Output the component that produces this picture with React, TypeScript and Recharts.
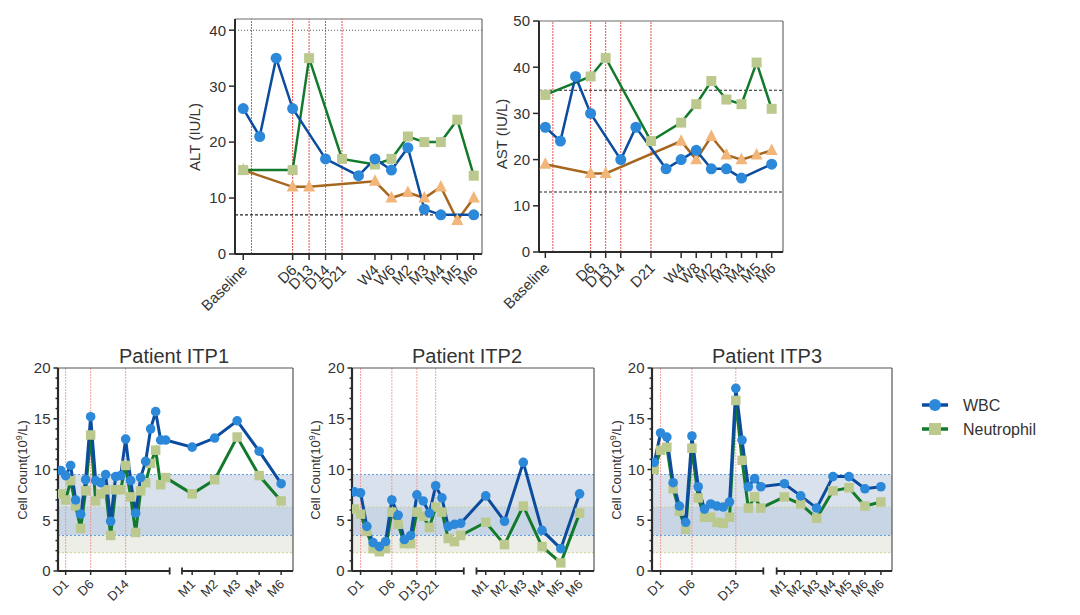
import React from 'react';
import { LineChart, Line, XAxis, YAxis, ReferenceLine, ReferenceArea } from 'recharts';

const FONT = '"Liberation Sans", Arial, Helvetica, sans-serif';
const TEXT = '#333333';
const AXIS = '#2b2b2b';

const BLUE_LINE = '#0B4C9E';
const BLUE_DOT = '#2C88D8';
const GREEN_LINE = '#137A2C';
const GREEN_DOT = '#BCC98E';
const ORANGE_LINE = '#A6661D';
const ORANGE_DOT = '#F2B67B';

// ---------------- ALT (top left) ----------------
const altTickLabels = ['Baseline', 'D6', 'D13', 'D14', 'D21', 'W4', 'W6', 'M2', 'M3', 'M4', 'M5', 'M6'];
const altTickPos = [0, 3, 4, 5, 6, 8, 9, 10, 11, 12, 13, 14];
const altGuides = [0.5, 3, 4, 5, 6];
const altBlueX = [0, 1, 2, 3, 5, 7, 8, 9, 10, 11, 12, 14];
const altBlue = [26, 21, 35, 26, 17, 14, 17, 15, 19, 8, 7, 7];
const altGreenX = [0, 3, 4, 6, 8, 9, 10, 11, 12, 13, 14];
const altGreen = [15, 15, 35, 17, 16, 17, 21, 20, 20, 24, 14];
const altOrangeX = [0, 3, 4, 8, 9, 10, 11, 12, 13, 14];
const altOrange = [15, 12, 12, 13, 10, 11, 10, 12, 6, 10];
const altUpper = 40;
const altLower = 7;

// ---------------- AST (top right) ----------------
const astTickLabels = ['Baseline', 'D6', 'D13', 'D14', 'D21', 'W4', 'W8', 'M2', 'M3', 'M4', 'M5', 'M6'];
const astTickPos = [0, 3, 4, 5, 7, 9, 10, 11, 12, 13, 14, 15];
const astGuides = [0.5, 3, 4, 5, 7];
const astBlueX = [0, 1, 2, 3, 5, 6, 8, 9, 10, 11, 12, 13, 15];
const astBlue = [27, 24, 38, 30, 20, 27, 18, 20, 22, 18, 18, 16, 19];
const astGreenX = [0, 3, 4, 7, 9, 10, 11, 12, 13, 14, 15];
const astGreen = [34, 38, 42, 24, 28, 32, 37, 33, 32, 41, 31];
const astOrangeX = [0, 3, 4, 9, 10, 11, 12, 13, 14, 15];
const astOrange = [19, 17, 17, 24, 20, 25, 21, 20, 21, 22];
const astUpper = 35;
const astLower = 13;

// ---------------- Blood counts (bottom) ----------------
const wbcRange = [3.5, 9.5];
const neuRange = [1.8, 6.3];
const countTicks = [0, 1, 2, 3, 4, 5, 6, 7, 8, 9, 10, 11, 12, 13, 14, 15, 16, 17, 18, 19, 20];

const itp1DayTickPos = [1, 6, 13];
const itp1DayLabels = ['D1', 'D6', 'D14'];
const itp1WbcDays = [9.9, 9.4, 10.4, 7.0, 5.6, 9.0, 15.2, 8.9, 8.7, 9.5, 4.9, 9.3, 9.4, 13.0, 8.9, 5.7, 9.2, 10.8, 14.0, 15.7, 12.9, 12.9];
const itp1NeuDays = [7.6, 7.0, 8.9, 6.4, 4.2, 7.9, 13.4, 6.9, 7.6, 8.0, 3.5, 8.0, 8.0, 10.4, 7.3, 3.8, 7.9, 8.7, 10.6, 11.9, 8.5, 9.2];
const itp1MonthPos = [26.3, 30.8, 35.3, 39.7, 44.1];
const itp1MonthLabels = ['M1', 'M2', 'M3', 'M4', 'M6'];
const itp1WbcMonths = [12.2, 13.1, 14.8, 11.8, 8.6];
const itp1NeuMonths = [7.6, 9.0, 13.2, 9.4, 6.9];

const itp2DayTickPos = [1, 6, 10, 13];
const itp2DayLabels = ['D1', 'D6', 'D13', 'D21'];
const itp2WbcDays = [7.8, 7.7, 4.4, 2.8, 2.4, 2.9, 7.0, 5.5, 3.1, 3.5, 7.5, 6.9, 5.7, 8.4, 7.2, 4.4, 4.6, 4.7];
const itp2NeuDays = [6.1, 5.6, 3.9, 2.2, 1.9, 2.2, 5.8, 4.6, 2.7, 2.7, 5.8, 5.4, 4.3, 6.3, 5.8, 3.2, 2.9, 3.5];
const itp2MonthPos = [21, 24, 27, 30, 33, 36];
const itp2MonthLabels = ['M1', 'M2', 'M3', 'M4', 'M5', 'M6'];
const itp2WbcMonths = [7.4, 4.9, 10.7, 4.0, 2.2, 7.6];
const itp2NeuMonths = [4.8, 2.6, 6.4, 2.4, 0.8, 5.7];

const itp3DayTickPos = [1, 6, 13];
const itp3DayLabels = ['D1', 'D6', 'D13'];
const itp3WbcDays = [10.7, 13.6, 13.2, 8.7, 6.4, 4.8, 13.3, 8.3, 6.1, 6.6, 6.4, 6.3, 6.8, 18.0, 12.9, 8.3, 9.1, 8.3];
const itp3NeuDays = [10.0, 11.9, 12.2, 8.1, 5.9, 4.1, 12.1, 7.2, 5.3, 5.3, 4.8, 4.7, 5.3, 16.8, 10.9, 6.2, 7.3, 6.2];
const itp3MonthPos = [20.75, 23.35, 25.9, 28.5, 31.05, 33.6, 36.15];
const itp3MonthLabels = ['M1', 'M2', 'M3', 'M4', 'M5', 'M6', 'M6'];
const itp3WbcMonths = [8.6, 7.4, 6.2, 9.3, 9.3, 8.1, 8.3];
const itp3NeuMonths = [7.3, 6.6, 5.2, 7.9, 8.2, 6.4, 6.8];

// ---------------- helpers ----------------
const zip = (xs: number[], vs: number[]) => xs.map((x, i) => ({ x, v: vs[i] }));
const seq = (vs: number[]) => vs.map((v, i) => ({ x: i, v }));

const circleDot = (r: number, fill: string) => (p: any) => (
  <circle key={`c${p.index}`} cx={p.cx} cy={p.cy} r={r} fill={fill} />
);
const squareDot = (s: number, fill: string) => (p: any) => (
  <rect key={`s${p.index}`} x={p.cx - s / 2} y={p.cy - s / 2} width={s} height={s} fill={fill} />
);
const triDot = (s: number, fill: string) => (p: any) => (
  <polygon
    key={`t${p.index}`}
    points={`${p.cx},${p.cy - s * 0.58} ${p.cx - s / 2},${p.cy + s * 0.38} ${p.cx + s / 2},${p.cy + s * 0.38}`}
    fill={fill}
  />
);

const makeXTick = (positions: number[], labels: string[], fontSize: number, dx: number, dy: number, len: number) =>
  (props: any) => {
    const { x, y, payload } = props;
    const idx = positions.indexOf(payload.value);
    return (
      <g key={`xt${payload.value}`}>
        <line x1={x} y1={y} x2={x} y2={y + len} stroke={AXIS} strokeWidth={1.5} />
        <text
          transform={`translate(${x + dx},${y + dy}) rotate(-45)`}
          textAnchor="end"
          fontSize={fontSize}
          fontFamily={FONT}
          fill={TEXT}
        >
          {idx >= 0 ? labels[idx] : ''}
        </text>
      </g>
    );
  };

const makeYTick = (major: number, fontSize: number, majorLen: number, minorLen: number) => (props: any) => {
  const { x, y, payload } = props;
  const isMajor = payload.value % major === 0;
  return (
    <g key={`yt${payload.value}`}>
      <line x1={x - (isMajor ? majorLen : minorLen)} y1={y} x2={x} y2={y} stroke={AXIS} strokeWidth={1.5} />
      {isMajor && (
        <text x={x - majorLen - 3} y={y + fontSize * 0.36} textAnchor="end" fontSize={fontSize} fontFamily={FONT} fill={TEXT}>
          {payload.value}
        </text>
      )}
    </g>
  );
};

// ---------------- Liver panel ----------------
type LiverProps = {
  left: number; top: number; width: number; height: number;
  yAxisWidth: number; marginTop: number; marginRight: number; xAxisHeight: number;
  xDomain: [number, number]; yDomain: [number, number]; yTicks: number[];
  tickPos: number[]; tickLabels: string[]; guides: number[];
  upper: number; upperDotted: boolean; lower: number;
  blue: { x: number; v: number }[]; green: { x: number; v: number }[]; orange: { x: number; v: number }[];
};

function LiverPanel(p: LiverProps) {
  return (
    <div style={{ position: 'absolute', left: p.left, top: p.top }}>
      <LineChart width={p.width} height={p.height} margin={{ top: p.marginTop, right: p.marginRight, bottom: 0, left: 0 }}>
        <XAxis
          type="number" dataKey="x" domain={p.xDomain} ticks={p.tickPos} interval={0} allowDataOverflow
          height={p.xAxisHeight} tickSize={0} tickMargin={0} tickLine={false}
          axisLine={{ stroke: AXIS, strokeWidth: 2 }}
          tick={makeXTick(p.tickPos, p.tickLabels, 15, 5, 17, 6)}
        />
        <YAxis
          type="number" domain={p.yDomain} ticks={p.yTicks} interval={0} allowDataOverflow
          width={p.yAxisWidth} tickSize={0} tickMargin={0} tickLine={false}
          axisLine={{ stroke: AXIS, strokeWidth: 2 }}
          tick={makeYTick(10, 15, 6, 3)}
        />
        <ReferenceLine y={p.yDomain[1]} stroke="#6b6b6b" strokeWidth={1.2} />
        <ReferenceLine x={p.xDomain[1]} stroke="#6b6b6b" strokeWidth={1.2} />
        {p.guides.map((g) => (
          <ReferenceLine key={`g${g}`} x={g} stroke="#E8504A" strokeWidth={1} strokeDasharray="2 1" />
        ))}
        <ReferenceLine y={p.upper} stroke={p.upperDotted ? '#555' : '#222'} strokeWidth={1.1} strokeDasharray={p.upperDotted ? '1 2' : '3 2'} />
        <ReferenceLine y={p.lower} stroke="#222" strokeWidth={1.1} strokeDasharray="3 2" />
        <Line data={p.orange} dataKey="v" stroke={ORANGE_LINE} strokeWidth={2.5} dot={triDot(12, ORANGE_DOT)} activeDot={false} isAnimationActive={false} />
        <Line data={p.green} dataKey="v" stroke={GREEN_LINE} strokeWidth={2.5} dot={squareDot(10, GREEN_DOT)} activeDot={false} isAnimationActive={false} />
        <Line data={p.blue} dataKey="v" stroke={BLUE_LINE} strokeWidth={2.5} dot={circleDot(5.5, BLUE_DOT)} activeDot={false} isAnimationActive={false} />
      </LineChart>
    </div>
  );
}

// ---------------- Count panel ----------------
type CountProps = {
  left: number; top: number; width: number; height: number;
  yAxisWidth: number; marginTop: number; marginRight: number; xAxisHeight: number;
  xDomain: [number, number]; breakAt: [number, number];
  dayTickPos: number[]; dayLabels: string[];
  monthPos: number[]; monthLabels: string[];
  wbc: { x: number; v: number }[]; neu: { x: number; v: number }[];
};

function CountPanel(p: CountProps) {
  const tickPos = [...p.dayTickPos, ...p.monthPos];
  const tickLabels = [...p.dayLabels, ...p.monthLabels];
  return (
    <div style={{ position: 'absolute', left: p.left, top: p.top }}>
      <LineChart width={p.width} height={p.height} margin={{ top: p.marginTop, right: p.marginRight, bottom: 0, left: 0 }}>
        <XAxis
          type="number" dataKey="x" domain={p.xDomain} ticks={tickPos} interval={0} allowDataOverflow
          height={p.xAxisHeight} tickSize={0} tickMargin={0} tickLine={false} axisLine={false}
          tick={makeXTick(tickPos, tickLabels, 13, 4, 14, 4)}
        />
        <YAxis
          type="number" domain={[0, 20]} ticks={countTicks} interval={0} allowDataOverflow
          width={p.yAxisWidth} tickSize={0} tickMargin={0} tickLine={false}
          axisLine={{ stroke: AXIS, strokeWidth: 2.2 }}
          tick={makeYTick(5, 15, 4.5, 2.5)}
        />
        <ReferenceArea y1={neuRange[1]} y2={wbcRange[1]} fill="#D9E1EC" fillOpacity={1} stroke="none" />
        <ReferenceArea y1={wbcRange[0]} y2={neuRange[1]} fill="#C8D5E4" fillOpacity={1} stroke="none" />
        <ReferenceArea y1={neuRange[0]} y2={wbcRange[0]} fill="#EDEEE7" fillOpacity={1} stroke="none" />
        <ReferenceLine y={wbcRange[1]} stroke="#5B9BE0" strokeWidth={1} strokeDasharray="2 2" />
        <ReferenceLine y={wbcRange[0]} stroke="#5B9BE0" strokeWidth={1} strokeDasharray="2 2" />
        <ReferenceLine y={neuRange[1]} stroke="#CDD28F" strokeWidth={1} strokeDasharray="2 2" />
        <ReferenceLine y={neuRange[0]} stroke="#CDD28F" strokeWidth={1} strokeDasharray="2 2" />
        {p.dayTickPos.map((g) => (
          <ReferenceLine key={`g${g}`} x={g} stroke="#F08A8A" strokeWidth={0.8} strokeDasharray="2 1" />
        ))}
        <ReferenceLine y={20} stroke="#555" strokeWidth={1.2} />
        <ReferenceLine x={p.xDomain[1]} stroke="#555" strokeWidth={1.2} />
        <ReferenceLine segment={[{ x: p.xDomain[0], y: 0 }, { x: p.breakAt[0], y: 0 }]} stroke={AXIS} strokeWidth={2.2} ifOverflow="visible" />
        <ReferenceLine segment={[{ x: p.breakAt[1], y: 0 }, { x: p.xDomain[1], y: 0 }]} stroke={AXIS} strokeWidth={2.2} ifOverflow="visible" />
        <ReferenceLine segment={[{ x: p.breakAt[0], y: -0.35 }, { x: p.breakAt[0], y: 0.35 }]} stroke={AXIS} strokeWidth={1.8} ifOverflow="visible" />
        <ReferenceLine segment={[{ x: p.breakAt[1], y: -0.35 }, { x: p.breakAt[1], y: 0.35 }]} stroke={AXIS} strokeWidth={1.8} ifOverflow="visible" />
        <Line data={p.neu} dataKey="v" stroke={GREEN_LINE} strokeWidth={3} dot={squareDot(9.5, GREEN_DOT)} activeDot={false} isAnimationActive={false} />
        <Line data={p.wbc} dataKey="v" stroke={BLUE_LINE} strokeWidth={3} dot={circleDot(4.8, BLUE_DOT)} activeDot={false} isAnimationActive={false} />
      </LineChart>
    </div>
  );
}

const YLabelCount = ({ x, y }: { x: number; y: number }) => (
  <text transform={`translate(${x},${y}) rotate(-90)`} textAnchor="middle" fontSize={13} fontFamily={FONT} fill={TEXT}>
    <tspan>Cell Count(10</tspan>
    <tspan fontSize={9} dy={-5}>9</tspan>
    <tspan dy={5}>/L)</tspan>
  </text>
);

export default function App() {
  return (
    <div style={{ position: 'absolute', left: 0, top: 0, width: 1080, height: 615, background: '#fff', fontFamily: FONT }}>
      <LiverPanel
        left={150} top={0} width={340} height={320} yAxisWidth={85} marginTop={19} marginRight={8} xAxisHeight={66}
        xDomain={[-0.5, 14.5]} yDomain={[0, 42]} yTicks={[0, 10, 20, 30, 40]}
        tickPos={altTickPos} tickLabels={altTickLabels} guides={altGuides}
        upper={altUpper} upperDotted={true} lower={altLower}
        blue={zip(altBlueX, altBlue)} green={zip(altGreenX, altGreen)} orange={zip(altOrangeX, altOrange)}
      />
      <LiverPanel
        left={460} top={0} width={330} height={320} yAxisWidth={79} marginTop={21} marginRight={7} xAxisHeight={68}
        xDomain={[-0.42, 15.75]} yDomain={[0, 50]} yTicks={[0, 10, 20, 30, 40, 50]}
        tickPos={astTickPos} tickLabels={astTickLabels} guides={astGuides}
        upper={astUpper} upperDotted={false} lower={astLower}
        blue={zip(astBlueX, astBlue)} green={zip(astGreenX, astGreen)} orange={zip(astOrangeX, astOrange)}
      />
      <CountPanel
        left={0} top={340} width={300} height={275} yAxisWidth={58} marginTop={28} marginRight={7} xAxisHeight={44}
        xDomain={[-0.53, 46.47]} breakAt={[21.8, 24.27]}
        dayTickPos={itp1DayTickPos} dayLabels={itp1DayLabels} monthPos={itp1MonthPos} monthLabels={itp1MonthLabels}
        wbc={[...seq(itp1WbcDays), ...zip(itp1MonthPos, itp1WbcMonths)]}
        neu={[...seq(itp1NeuDays), ...zip(itp1MonthPos, itp1NeuMonths)]}
      />
      <CountPanel
        left={300} top={340} width={300} height={275} yAxisWidth={52} marginTop={28} marginRight={6} xAxisHeight={44}
        xDomain={[-0.37, 38.3]} breakAt={[17.49, 19.52]}
        dayTickPos={itp2DayTickPos} dayLabels={itp2DayLabels} monthPos={itp2MonthPos} monthLabels={itp2MonthLabels}
        wbc={[...seq(itp2WbcDays), ...zip(itp2MonthPos, itp2WbcMonths)]}
        neu={[...seq(itp2NeuDays), ...zip(itp2MonthPos, itp2NeuMonths)]}
      />
      <CountPanel
        left={595} top={340} width={305} height={275} yAxisWidth={57} marginTop={28} marginRight={8} xAxisHeight={44}
        xDomain={[-0.37, 37.92]} breakAt={[17.39, 19.52]}
        dayTickPos={itp3DayTickPos} dayLabels={itp3DayLabels} monthPos={itp3MonthPos} monthLabels={itp3MonthLabels}
        wbc={[...seq(itp3WbcDays), ...zip(itp3MonthPos, itp3WbcMonths)]}
        neu={[...seq(itp3NeuDays), ...zip(itp3MonthPos, itp3NeuMonths)]}
      />
      <svg width={1080} height={615} style={{ position: 'absolute', left: 0, top: 0, pointerEvents: 'none' }}>
        <text transform="translate(200,137) rotate(-90)" textAnchor="middle" fontSize={15} fontFamily={FONT} fill={TEXT}>ALT (IU/L)</text>
        <text transform="translate(507,134) rotate(-90)" textAnchor="middle" fontSize={15} fontFamily={FONT} fill={TEXT}>AST (IU/L)</text>
        <text x={174} y={363} textAnchor="middle" fontSize={20} fontFamily={FONT} fill={TEXT}>Patient ITP1</text>
        <text x={467} y={363} textAnchor="middle" fontSize={20} fontFamily={FONT} fill={TEXT}>Patient ITP2</text>
        <text x={767} y={363} textAnchor="middle" fontSize={20} fontFamily={FONT} fill={TEXT}>Patient ITP3</text>
        <YLabelCount x={27} y={470} />
        <YLabelCount x={320} y={470} />
        <YLabelCount x={621} y={470} />
        <line x1={922} y1={405} x2={948} y2={405} stroke={BLUE_LINE} strokeWidth={3.5} />
        <circle cx={935} cy={405} r={6} fill={BLUE_DOT} />
        <text x={963} y={411} fontSize={16} fontFamily={FONT} fill={TEXT}>WBC</text>
        <line x1={922} y1={429} x2={948} y2={429} stroke={GREEN_LINE} strokeWidth={3.5} />
        <rect x={929} y={423} width={12} height={12} fill={GREEN_DOT} />
        <text x={963} y={435} fontSize={16} fontFamily={FONT} fill={TEXT}>Neutrophil</text>
      </svg>
    </div>
  );
}
